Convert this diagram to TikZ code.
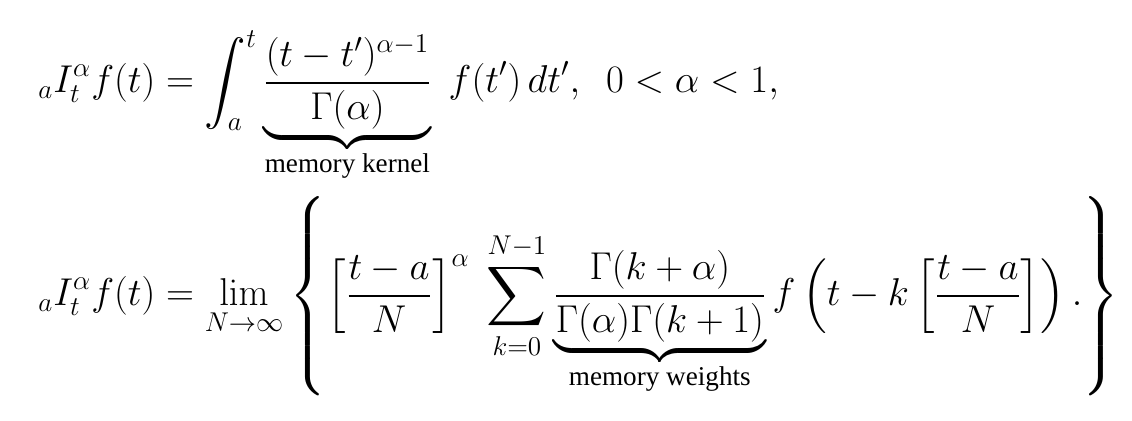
\documentclass[tikz,border=0pt]{standalone}
\usepackage{fix-cm}
\usepackage{amsmath}
\usepackage[no-math]{fontspec}
\setmainfont{Liberation Serif}
\usepackage{tikz}
\newcommand{\frint}{{}_{a}I_{t}^{\alpha}}

\begin{document}
\begin{tikzpicture}[x=0.5pt,y=-0.5pt]
    \useasboundingbox (0,0) rectangle (1132,421);
    \tikzset{formula/.style={anchor=base west, inner sep=0pt, font=\fontsize{19.4}{23}\selectfont}}
    \node[formula] (eqone) at (38,93) {$\displaystyle \frint f(t) = \int_{a}^{t} \underbrace{\frac{(t-t')^{\alpha-1}}{\Gamma(\alpha)}}_{\text{memory kernel}}\; f(t')\,dt',\ \ 0<\alpha<1,$};
    \node[formula] (eqtwo) at (38,306) {$\displaystyle \frint f(t) = \lim_{N\to\infty}\left\{\left[\frac{t-a}{N}\right]^{\alpha}\;\sum_{k=0}^{N-1}\underbrace{\frac{\Gamma(k+\alpha)}{\Gamma(\alpha)\Gamma(k+1)}}_{\text{memory weights}} f\left(t-k\left[\frac{t-a}{N}\right]\right).\right\}$};
\end{tikzpicture}
\end{document}
